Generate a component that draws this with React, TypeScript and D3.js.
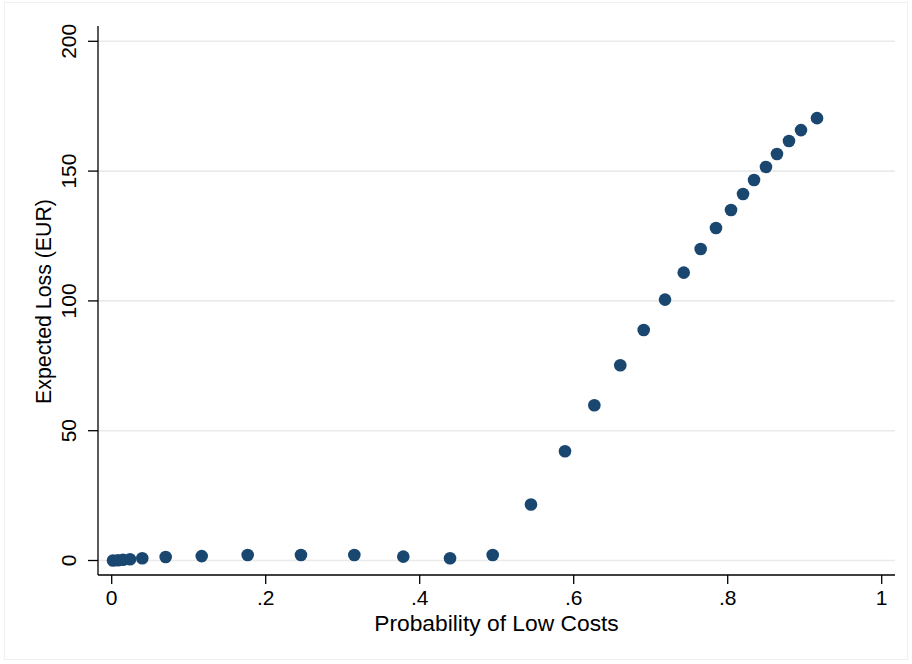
import React from "react";
import * as d3 from "d3";

const probLow: number[] = [
  0.0017, 0.0082, 0.0147, 0.0238, 0.0397, 0.0701, 0.1169, 0.1766, 0.2458, 0.3151,
  0.3787, 0.4394, 0.4948, 0.5445, 0.5887, 0.6268, 0.6605, 0.6909, 0.7186, 0.7429,
  0.7649, 0.7848, 0.8043, 0.8199, 0.8342, 0.8497, 0.864, 0.8796, 0.8952, 0.916,
];
const expectedLoss: number[] = [
  0.0, 0.1, 0.3, 0.5, 0.85, 1.35, 1.7, 2.1, 2.1, 2.1,
  1.5, 0.85, 2.1, 21.6, 42.1, 59.8, 75.2, 88.8, 100.5, 110.9,
  120.0, 128.1, 135.0, 141.2, 146.6, 151.6, 156.6, 161.6, 165.8, 170.4,
];
const xTicks: number[] = [0, 0.2, 0.4, 0.6, 0.8, 1];
const xTickLabels: string[] = ["0", ".2", ".4", ".6", ".8", "1"];
const yTicks: number[] = [0, 50, 100, 150, 200];
const yTickLabels: string[] = ["0", "50", "100", "150", "200"];
const xTitle = "Probability of Low Costs";
const yTitle = "Expected Loss (EUR)";

const W = 912;
const H = 664;
const FONT = "'Liberation Sans', Arial, Helvetica, sans-serif";

export default function App() {
  const plotL = 98;
  const plotR = 895;
  const plotT = 26;
  const plotB = 575;
  const x = d3.scaleLinear().domain([0, 1]).range([111.7, 881.7]);
  const y = d3.scaleLinear().domain([0, 200]).range([560.5, 41.3]);
  const pts = d3.zip(probLow, expectedLoss);

  return (
    <svg
      width={W}
      height={H}
      style={{ position: "absolute", left: 0, top: 0, background: "#fff" }}
      fontFamily={FONT}
    >
      <rect x={0} y={0} width={W} height={H} fill="#fff" />
      <rect x={4.5} y={2.5} width={903} height={657} fill="none" stroke="#eef0f2" strokeWidth={1} />
      {yTicks.map((t) => (
        <line key={"g" + t} x1={plotL} x2={plotR} y1={y(t)} y2={y(t)} stroke="#eaeaea" strokeWidth={1.6} />
      ))}
      <line x1={plotL} x2={plotL} y1={plotT} y2={plotB} stroke="#000" strokeWidth={1.3} />
      <line x1={plotL} x2={plotR} y1={plotB} y2={plotB} stroke="#000" strokeWidth={1.3} />
      {yTicks.map((t, i) => (
        <g key={"yt" + t}>
          <line x1={plotL - 10} x2={plotL} y1={y(t)} y2={y(t)} stroke="#000" strokeWidth={1.3} />
          <text
            transform={`translate(76,${y(t)}) rotate(-90)`}
            textAnchor="middle"
            fontSize={21}
            fill="#000"
          >
            {yTickLabels[i]}
          </text>
        </g>
      ))}
      {xTicks.map((t, i) => (
        <g key={"xt" + t}>
          <line x1={x(t)} x2={x(t)} y1={plotB} y2={plotB + 9} stroke="#000" strokeWidth={1.3} />
          <text x={x(t)} y={605} textAnchor="middle" fontSize={21} fill="#000">
            {xTickLabels[i]}
          </text>
        </g>
      ))}
      <text x={(plotL + plotR) / 2} y={630.5} textAnchor="middle" fontSize={22.8} fill="#000">
        {xTitle}
      </text>
      <text
        transform={`translate(51,${(plotT + plotB) / 2 + 1}) rotate(-90)`}
        textAnchor="middle"
        fontSize={21.3}
        fill="#000"
      >
        {yTitle}
      </text>
      {pts.map(([px, py], i) => (
        <circle key={i} cx={x(px)} cy={y(py)} r={6.3} fill="#1a476f" />
      ))}
    </svg>
  );
}
